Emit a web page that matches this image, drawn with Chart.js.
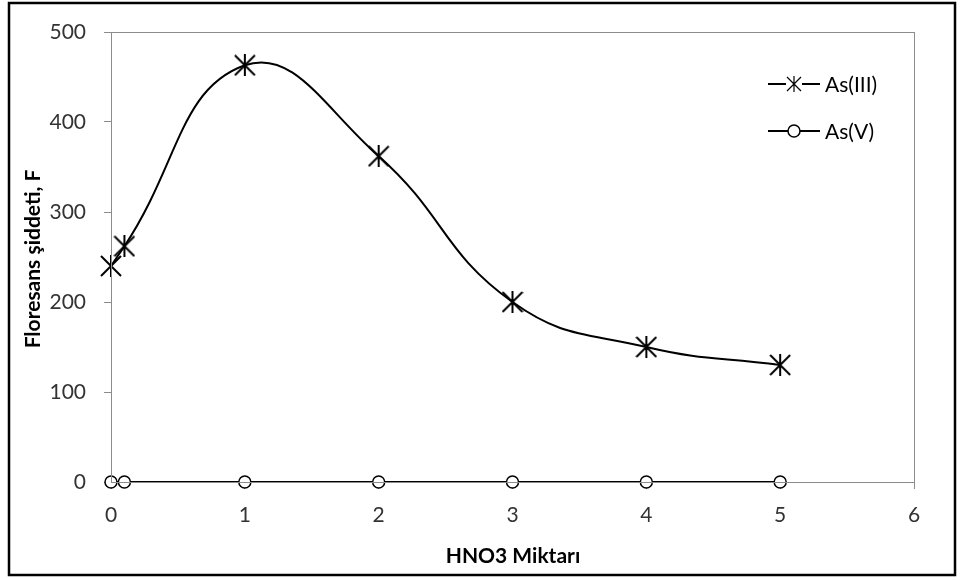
<!DOCTYPE html>
<html>
<head>
<meta charset="utf-8">
<script src="https://cdn.jsdelivr.net/npm/chart.js@4.4.0/dist/chart.umd.min.js"></script>
<style>
  html, body { margin: 0; padding: 0; background: #fff; }
  #wrap { width: 963px; height: 580px; position: relative; }
</style>
</head>
<body>
<div id="wrap"><canvas id="chart" width="963" height="580"></canvas></div>
<script>
// HNO3 amounts and fluorescence readings
const hno3 = [0, 0.1, 1, 2, 3, 4, 5];
const as3Values = [240, 262, 463, 362, 200, 150, 130];
const as5Values = [0, 0, 0, 0, 0, 0, 0];
const seriesNames = ['As(III)', 'As(V)'];
const xTicks = [0, 1, 2, 3, 4, 5, 6];
const yTicks = [0, 100, 200, 300, 400, 500];

const fontName = 'Lato, "Open Sans", sans-serif';

// asterisk marker: X with a vertical bar
function makeStar(size, width) {
  const c = document.createElement('canvas');
  c.width = size; c.height = size;
  const g = c.getContext('2d');
  const m = size / 2, r = size / 2 - 1;
  g.strokeStyle = '#000';
  g.lineWidth = width;
  g.beginPath();
  g.moveTo(m - r, m - r); g.lineTo(m + r, m + r);
  g.moveTo(m + r, m - r); g.lineTo(m - r, m + r);
  g.moveTo(m, m - r - 1); g.lineTo(m, m + r + 1);
  g.stroke();
  return c;
}
const starBig = makeStar(22, 2);
const starSmall = makeStar(16, 1.2);

function toPoints(xs, ys) {
  return xs.map((x, i) => ({ x: x, y: ys[i] }));
}

// frame, plot box, axis titles and legend
const decorPlugin = {
  id: 'decor',
  afterDraw(chart) {
    const ctx = chart.ctx;
    const a = chart.chartArea;
    ctx.save();
    // outer black frame
    ctx.strokeStyle = '#000';
    ctx.lineWidth = 2.5;
    ctx.strokeRect(9, 3, 946, 572);
    // plot area box
    ctx.strokeStyle = '#8c8c8c';
    ctx.lineWidth = 1;
    ctx.strokeRect(a.left + 0.5, a.top + 0.5, a.right - a.left, a.bottom - a.top);

    // axis titles
    ctx.fillStyle = '#000';
    ctx.font = 'bold 21px ' + fontName;
    ctx.textAlign = 'center';
    ctx.textBaseline = 'middle';
    ctx.fillText('HNO3 Miktarı', 513, 556);
    ctx.translate(33, 259);
    ctx.rotate(-Math.PI / 2);
    ctx.fillText('Floresans şiddeti, F', 0, 0);
    ctx.setTransform(1, 0, 0, 1, 0, 0);

    // legend
    const rows = [84, 131];
    ctx.font = '21px ' + fontName;
    ctx.textAlign = 'left';
    rows.forEach((y, i) => {
      ctx.strokeStyle = '#000';
      ctx.lineWidth = 2;
      ctx.beginPath();
      ctx.moveTo(768, y); ctx.lineTo(820, y);
      ctx.stroke();
      if (i === 0) {
        ctx.fillStyle = '#fff';
        ctx.fillRect(786, y - 8, 16, 16);
        ctx.drawImage(starSmall, 786, y - 8);
      } else {
        ctx.fillStyle = '#fff';
        ctx.beginPath();
        ctx.arc(794, y, 6, 0, Math.PI * 2);
        ctx.fill();
        ctx.lineWidth = 1.5;
        ctx.stroke();
      }
      ctx.fillStyle = '#000';
      ctx.fillText(seriesNames[i], 825, y + 1);
    });
    ctx.restore();
  }
};

new Chart(document.getElementById('chart'), {
  type: 'line',
  data: {
    datasets: [
      {
        label: seriesNames[0],
        data: toPoints(hno3, as3Values),
        borderColor: '#000',
        borderWidth: 2,
        tension: 0.45,
        pointStyle: starBig,
        pointRadius: 11,
        pointHoverRadius: 11
      },
      {
        label: seriesNames[1],
        data: toPoints(hno3, as5Values),
        borderColor: '#000',
        backgroundColor: '#fff',
        borderWidth: 2,
        tension: 0,
        pointStyle: 'circle',
        pointRadius: 6,
        pointBorderWidth: 1.5,
        pointBackgroundColor: '#fff',
        pointBorderColor: '#000'
      }
    ]
  },
  options: {
    responsive: false,
    animation: false,
    clip: false,
    layout: { padding: { left: 0, right: 49, top: 32, bottom: 0 } },
    plugins: {
      legend: { display: false },
      tooltip: { enabled: false }
    },
    scales: {
      x: {
        type: 'linear',
        min: 0,
        max: 6,
        afterFit(scale) { scale.height = 98; },
        afterBuildTicks(scale) { scale.ticks = xTicks.map(v => ({ value: v })); },
        grid: { drawOnChartArea: false, color: '#8c8c8c', tickLength: 7 },
        border: { color: '#8c8c8c' },
        ticks: {
          color: '#333',
          font: { family: fontName, size: 21 },
          padding: 14
        }
      },
      y: {
        min: 0,
        max: 500,
        afterFit(scale) { scale.width = 111; },
        afterBuildTicks(scale) { scale.ticks = yTicks.map(v => ({ value: v })); },
        grid: { drawOnChartArea: false, color: '#8c8c8c', tickLength: 7 },
        border: { color: '#8c8c8c' },
        ticks: {
          color: '#333',
          font: { family: fontName, size: 21 },
          padding: 18
        }
      }
    }
  },
  plugins: [decorPlugin]
});
</script>
</body>
</html>
